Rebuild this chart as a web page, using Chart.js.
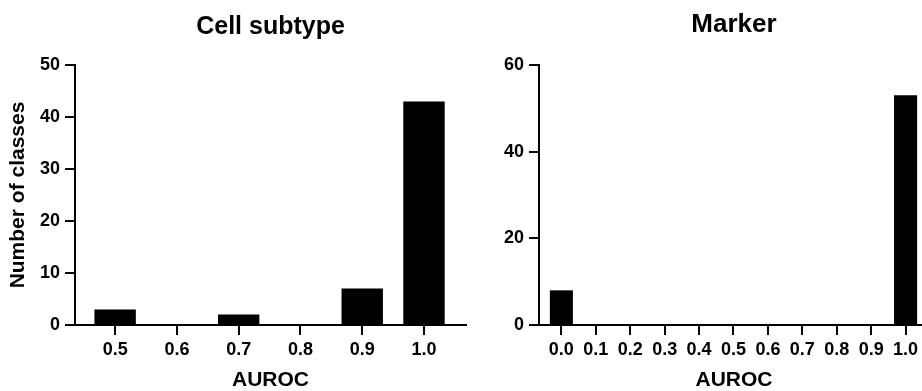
<!DOCTYPE html>
<html>
<head>
<meta charset="utf-8">
<script src="https://cdn.jsdelivr.net/npm/chart.js@4.4.1/dist/chart.umd.min.js"></script>
<style>
    html, body { margin: 0; padding: 0; background: #fff; width: 922px; height: 391px; overflow: hidden; }
    .painel { position: absolute; top: 0; }
</style>
</head>
<body>
<div class="painel" style="left:0"><canvas id="graficoSubtipo" width="470" height="391"></canvas></div>
<div class="painel" style="left:470px"><canvas id="graficoMarcador" width="465" height="391"></canvas></div>

<script>
// valores
const subtypeAuroc = [0.5, 0.6, 0.7, 0.8, 0.9, 1.0];
const subtypeCounts = [3, 0, 2, 0, 7, 43];
const subtypeYTicks = [0, 10, 20, 30, 40, 50];

const markerAuroc = [0.0, 0.1, 0.2, 0.3, 0.4, 0.5, 0.6, 0.7, 0.8, 0.9, 1.0];
const markerCounts = [8, 0, 0, 0, 0, 0, 0, 0, 0, 0, 53];
const markerYTicks = [0, 20, 40, 60];

const fonte = "'Liberation Sans', Arial, Helvetica, sans-serif";

function eixoPreto(tickLength) {
    return {
        offset: false,
        drawOnChartArea: false,
        drawTicks: true,
        tickLength: tickLength,
        tickWidth: 2,
        tickColor: "#000",
        color: "#000",
        lineWidth: 2
    };
}

function histograma(canvas, opts) {
    return new Chart(canvas, {
        type: "bar",
        data: {
            datasets: [{
                data: opts.xs.map((x, i) => ({ x: x, y: opts.ys[i] })),
                backgroundColor: "#000",
                borderWidth: 0,
                categoryPercentage: 1,
                barPercentage: 0.67
            }]
        },
        options: {
            responsive: false,
            animation: false,
            layout: {
                padding: { left: 0, right: opts.padRight, top: 0, bottom: 0 }
            },
            plugins: {
                legend: { display: false },
                tooltip: { enabled: false },
                title: {
                    display: true,
                    text: opts.title,
                    color: "#000",
                    fullSize: false,
                    font: { family: fonte, size: opts.titleSize, weight: "bold", lineHeight: 1.2 },
                    padding: opts.titlePadding
                }
            },
            scales: {
                x: {
                    type: "linear",
                    offset: false,
                    min: opts.xs[0] - 0.065,
                    max: opts.xs[opts.xs.length - 1] + 0.068,
                    afterBuildTicks: (scale) => {
                        scale.ticks = opts.xs.map(v => ({ value: v }));
                    },
                    afterFit: (scale) => { scale.height = 66; },
                    ticks: {
                        color: "#000",
                        padding: 4,
                        maxRotation: 0,
                        autoSkip: false,
                        font: { family: fonte, size: 18, weight: "bold" },
                        callback: (v) => Number(v).toFixed(1)
                    },
                    grid: eixoPreto(10),
                    border: { display: true, color: "#000", width: 2 },
                    title: {
                        display: true,
                        text: "AUROC",
                        color: "#000",
                        padding: { top: 0, bottom: 0 },
                        font: { family: fonte, size: 21, weight: "bold", lineHeight: 1 }
                    }
                },
                y: {
                    min: 0,
                    max: opts.yTicks[opts.yTicks.length - 1],
                    afterBuildTicks: (scale) => {
                        scale.ticks = opts.yTicks.map(v => ({ value: v }));
                    },
                    afterFit: (scale) => { scale.width = opts.yWidth; },
                    ticks: {
                        color: "#000",
                        padding: 5,
                        font: { family: fonte, size: 18, weight: "bold" }
                    },
                    grid: eixoPreto(10),
                    border: { display: true, color: "#000", width: 2 },
                    title: {
                        display: opts.yTitle !== "",
                        text: opts.yTitle,
                        color: "#000",
                        padding: { top: 8, bottom: 0 },
                        font: { family: fonte, size: 21, weight: "bold", lineHeight: 1 }
                    }
                }
            }
        }
    });
}

histograma(document.getElementById("graficoSubtipo"), {
    xs: subtypeAuroc,
    ys: subtypeCounts,
    yTicks: subtypeYTicks,
    title: "Cell subtype",
    titleSize: 25,
    titlePadding: { top: 12, bottom: 23 },
    yTitle: "Number of classes",
    yWidth: 75,
    padRight: 4
});

histograma(document.getElementById("graficoMarcador"), {
    xs: markerAuroc,
    ys: markerCounts,
    yTicks: markerYTicks,
    title: "Marker",
    titleSize: 26,
    titlePadding: { top: 9, bottom: 24.8 },
    yTitle: "",
    yWidth: 69,
    padRight: 6
});
</script>
</body>
</html>
